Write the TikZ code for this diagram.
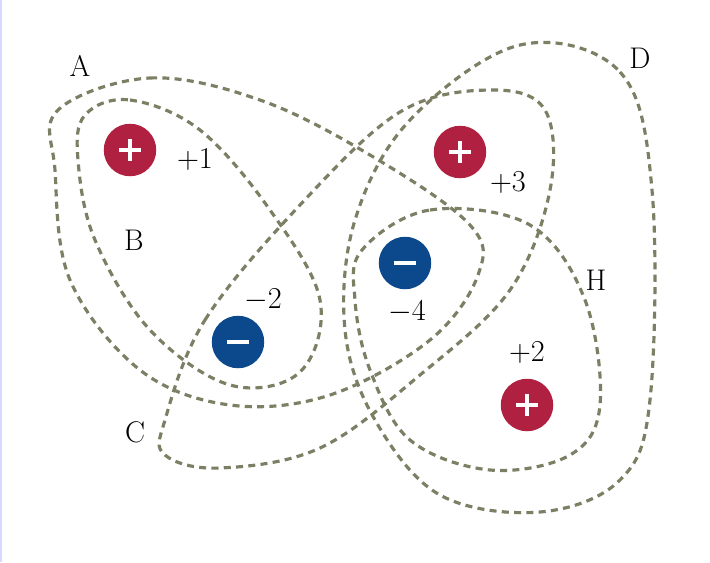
\documentclass[tikz,border=0pt]{standalone}
\definecolor{loopc}{RGB}{125,127,100}
\definecolor{redc}{RGB}{176,32,64}
\definecolor{bluec}{RGB}{12,72,140}
\begin{document}
\begin{tikzpicture}[x=0.02cm,y=-0.02cm,
  loop/.style={draw=loopc,line width=1.8pt,dash pattern=on 4pt off 3pt},
  poscharge/.style={circle,fill=redc,minimum size=1.05cm,inner sep=0pt},
  negcharge/.style={circle,fill=bluec,minimum size=1.05cm,inner sep=0pt},
  lab/.style={font=\fontsize{17}{20}\selectfont}]
\useasboundingbox (0,0) rectangle (710,562);
\fill[white] (0,0) rectangle (710,562);
\draw[blue!15,line width=1pt] (1,0) -- (1,562);
% loops
\draw[loop] plot[smooth cycle,tension=0.6] coordinates {(58,110) (150,78) (260,100) (370,155) (470,225) (478,275) (430,340) (330,395) (230,405) (140,370) (70,280) (55,170)};
\draw[loop] plot[smooth cycle,tension=0.6] coordinates {(85,115) (130,100) (200,130) (270,210) (320,300) (300,372) (230,385) (150,330) (95,240) (78,160)};
\draw[loop] plot[smooth cycle,tension=0.6] coordinates {(165,420) (205,320) (300,205) (400,112) (490,90) (545,110) (550,190) (510,290) (420,375) (320,448) (220,468) (165,455)};
\draw[loop] plot[smooth cycle,tension=0.6] coordinates {(520,45) (620,72) (652,190) (650,400) (620,480) (540,512) (440,495) (375,420) (345,330) (355,220) (410,120)};
\draw[loop] plot[smooth cycle,tension=0.6] coordinates {(362,250) (430,210) (530,225) (585,300) (600,405) (570,455) (490,470) (410,440) (370,370) (355,300)};
% charges
\node[poscharge] (p1) at (130,150) {};
\node[poscharge] (p3) at (460,152) {};
\node[poscharge] (p2) at (527,405) {};
\node[negcharge] (n4) at (405,263) {};
\node[negcharge] (n2) at (238,342) {};
\foreach \n in {p1,p3,p2}{\draw[white,line width=2.6pt] ([xshift=-0.22cm]\n.center) -- ([xshift=0.22cm]\n.center) ([yshift=-0.22cm]\n.center) -- ([yshift=0.22cm]\n.center);}
\foreach \n in {n4,n2}{\draw[white,line width=2.6pt] ([xshift=-0.22cm]\n.center) -- ([xshift=0.22cm]\n.center);}
% labels
\node[lab] (lA) at (80,66) {A};
\node[lab] (lB) at (134,240) {B};
\node[lab] (lC) at (135,432) {C};
\node[lab] (lD) at (640,58) {D};
\node[lab] (lH) at (596,280) {H};
\node[lab] (l1) at (195,160) {$+1$};
\node[lab] (l3) at (508,183) {$+3$};
\node[lab] (l2m) at (263,300) {$-2$};
\node[lab] (l4) at (407,312) {$-4$};
\node[lab] (l2) at (527,353) {$+2$};
\end{tikzpicture}
\end{document}
